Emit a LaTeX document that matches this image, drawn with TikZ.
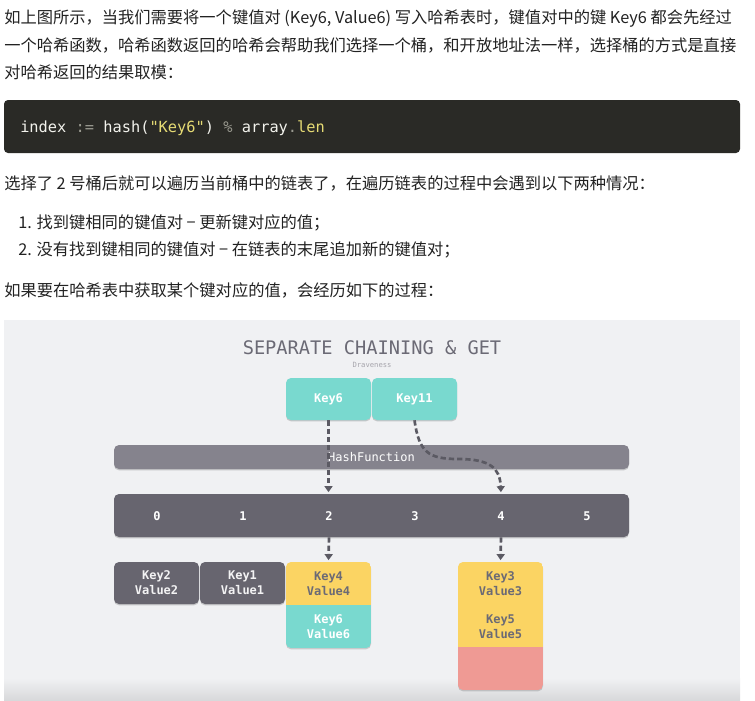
\documentclass[tikz,border=0pt]{standalone}
\usepackage{fontspec}
\setmainfont{Noto Sans CJK SC}
\setmonofont{DejaVu Sans Mono}
\usetikzlibrary{arrows.meta,shadows}
\definecolor{figbg}{HTML}{F0F1F3}
\definecolor{codebg}{HTML}{2A2A26}
\definecolor{codefg}{HTML}{F2F2EC}
\definecolor{codegray}{HTML}{9A9A90}
\definecolor{codeyel}{HTML}{E6DB74}
\definecolor{keyteal}{HTML}{79D9CF}
\definecolor{keyyellow}{HTML}{FBD463}
\definecolor{keyred}{HTML}{EF9A94}
\definecolor{darkbox}{HTML}{67656F}
\definecolor{hashbar}{HTML}{85838D}
\definecolor{titlegray}{HTML}{6B6A75}
\definecolor{arrowgray}{HTML}{5B5A63}
\definecolor{bodytext}{HTML}{222222}
\tikzset{
  body/.style={anchor=base west, inner sep=0pt, text=bodytext, font=\fontsize{12.2}{14}\selectfont},
  boxbase/.style={rectangle, rounded corners=3.75pt, minimum width=63.75pt, inner sep=0pt,
     drop shadow={shadow xshift=0pt, shadow yshift=-1pt, opacity=0.18, fill=black}},
  keybox/.style={boxbase, fill=keyteal, minimum height=31.5pt, text=white, font=\ttfamily\bfseries\fontsize{9}{11.25}\selectfont},
  kvdark/.style={boxbase, fill=darkbox, minimum height=31.5pt, text=white!92!darkbox, align=center, font=\ttfamily\bfseries\fontsize{9}{11.25}\selectfont},
  kvtext/.style={rectangle, minimum width=63.75pt, minimum height=32.25pt, inner sep=0pt, align=center, font=\ttfamily\bfseries\fontsize{9}{11.25}\selectfont},
  idxlabel/.style={inner sep=0pt, text=white, font=\ttfamily\bfseries\fontsize{9}{11}\selectfont},
  conn/.style={draw=arrowgray, line width=2pt, dash pattern=on 4pt off 2.2pt, -{Triangle[width=6pt,length=4.5pt]}, shorten >=1.2pt}
}
\begin{document}
\begin{tikzpicture}[x=0.75pt,y=-0.75pt]
\useasboundingbox (0,0) rectangle (755,700);
\fill[white] (0,0) rectangle (755,700);
% ---- body text
\node[body] (t1) at (4,23) {如上图所示，当我们需要将一个键值对 (Key6, Value6) 写入哈希表时，键值对中的键 Key6 都会先经过};
\node[body] (t2) at (4,51) {一个哈希函数，哈希函数返回的哈希会帮助我们选择一个桶，和开放地址法一样，选择桶的方式是直接};
\node[body] (t3) at (4,78) {对哈希返回的结果取模：};
% ---- code block
\fill[codebg, rounded corners=3pt] (4,100) rectangle (740,153);
\node[anchor=base west, inner sep=0pt, font=\ttfamily\fontsize{11.5}{13}\selectfont] (code) at (20,132)
 {\color{codefg}index\ {\color{codegray}:=}\ hash({\color{codeyel}"Key6"})\ {\color{codegray}\%}\ array{\color{codegray}.}{\color{codeyel}len}};
\node[body] (t4) at (4,189) {选择了 2 号桶后就可以遍历当前桶中的链表了，在遍历链表的过程中会遇到以下两种情况：};
\node[body] (l1) at (18,228) {1. 找到键相同的键值对 − 更新键对应的值；};
\node[body] (l2) at (18,255) {2. 没有找到键相同的键值对 − 在链表的末尾追加新的键值对；};
\node[body] (t5) at (4,296) {如果要在哈希表中获取某个键对应的值，会经历如下的过程：};
% ---- figure background
\fill[figbg] (4,320) rectangle (740,700);
\shade[top color=figbg, bottom color=figbg!90!black] (4,678) rectangle (740,700);
\node[text=titlegray, font=\ttfamily\fontsize{14}{16}\selectfont, inner sep=0pt] (title) at (372,348) {SEPARATE CHAINING \& GET};
\node[text=titlegray!60, font=\ttfamily\fontsize{5.4}{6}\selectfont, inner sep=0pt] (author) at (372,364.5) {Draveness};
% keys
\node[keybox] (key6) at (328.5,399) {Key6};
\node[keybox] (key11) at (414.5,399) {Key11};
% hash function bar
\node[boxbase, fill=hashbar, minimum width=386.25pt, minimum height=18pt, text=white, font=\ttfamily\fontsize{9}{11}\selectfont] (hash) at (371.5,457) {HashFunction};
% index bar
\node[boxbase, fill=darkbox, minimum width=386.25pt, minimum height=32.25pt] (idx) at (371.5,515.5) {};
\foreach \i in {0,...,5}{
  \node[idxlabel] (n\i) at (157+86*\i,516) {\i};
}
% bucket 1 chain (dark)
\node[kvdark] (kv2) at (156.5,583) {Key2\\Value2};
\node[kvdark] (kv1) at (242.5,583) {Key1\\Value1};
% bucket 2 column
\fill[black, opacity=0.16, rounded corners=3.75pt] (286,563.3) rectangle (371,649.3);
\begin{scope}
  \clip[rounded corners=3.75pt] (286,562) rectangle (371,648);
  \fill[keyyellow] (286,562) rectangle (371,605);
  \fill[keyteal] (286,605) rectangle (371,648);
\end{scope}
\node[kvtext, text=titlegray] (kv4) at (328.5,583.5) {Key4\\Value4};
\node[kvtext, text=white] (kv6) at (328.5,626.5) {Key6\\Value6};
% bucket 4 column
\fill[black, opacity=0.16, rounded corners=3.75pt] (458,563.3) rectangle (543,691.3);
\begin{scope}
  \clip[rounded corners=3.75pt] (458,562) rectangle (543,690);
  \fill[keyyellow] (458,562) rectangle (543,647);
  \fill[keyred] (458,647) rectangle (543,690);
\end{scope}
\node[kvtext, text=titlegray] (kv3) at (500.5,583.5) {Key3\\Value3};
\node[kvtext, text=titlegray] (kv5) at (500.5,626.5) {Key5\\Value5};
% connectors
\draw[conn] (key6.south) -- (key6.south |- idx.north);
\draw[conn] (key11.south) .. controls (419,452) and (428,459) .. (458,459) .. controls (490,459) and (500,468) .. (n4 |- idx.north);
\draw[conn] (n2 |- idx.south) -- (kv4.north);
\draw[conn] (n4 |- idx.south) -- (kv3.north);
\end{tikzpicture}
\end{document}
